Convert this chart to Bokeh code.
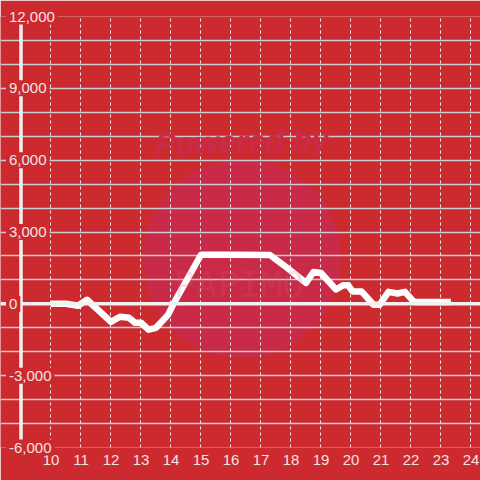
from bokeh.plotting import figure
from bokeh.models import Span, FixedTicker, ColumnDataSource, Label
from bokeh.core.properties import value
from bokeh.embed import file_html
from bokeh.resources import INLINE

# ---- data ----
hours = [10.0, 10.5, 10.9, 11.2, 12.0, 12.3, 12.6, 12.8, 13.0, 13.25, 13.5, 13.9, 14.1,
         15.0, 16.0, 17.3, 17.75, 18.5, 18.75, 19.0, 19.5, 19.75, 19.9, 20.05, 20.35,
         20.75, 20.95, 21.25, 21.55, 21.8, 22.1, 23.33]
values = [0, 0, -80, 170, -750, -540, -580, -790, -790, -1080, -1000, -460, 40,
          2050, 2050, 2040, 1620, 875, 1330, 1290, 600, 780, 780, 520, 520,
          -40, -40, 500, 430, 500, 80, 80]
x_ticks = list(range(10, 25))
y_ticks = list(range(-6000, 12001, 3000))
y_grid = list(range(-6000, 12001, 1000))
y_labels = ["-6,000", "-3,000", "0", "3,000", "6,000", "9,000", "12,000"]
axis_x = 9
watermark_x = 16.37
watermark_y = 1875

BG = "#cc2a2f"
TXT = "#f4e2e2"

p = figure(width=480, height=480, output_backend="svg", toolbar_location=None,
           x_range=(8.317, 24.317), y_range=(-6000, 12000),
           min_border_left=0, min_border_right=0, min_border_top=16, min_border_bottom=33,
           background_fill_color=BG, border_fill_color=BG, outline_line_color=None)

# watermark
p.scatter([watermark_x], [watermark_y], size=198, fill_color="#c92a48",
          line_color=None, level="image")
p.add_layout(Label(x=watermark_x, y=watermark_y + 4900, text="Powered by",
                   text_align="center", text_baseline="middle",
                   text_font="Liberation Sans", text_font_style="bold italic",
                   text_font_size="31px", text_color="#c92b4a", angle=0.03))
p.add_layout(Label(x=watermark_x - 0.1, y=watermark_y - 1050, text="PAPIMO",
                   text_align="center", text_baseline="middle",
                   text_font="DejaVu Sans Mono",
                   text_font_size="36px", text_color="#d85a6a", text_alpha=0.2))

# grids
p.ygrid.ticker = FixedTicker(ticks=y_grid)
p.ygrid.grid_line_color = "#c9cdd2"
p.ygrid.grid_line_width = 1.5
p.xgrid.ticker = FixedTicker(ticks=x_ticks)
p.xgrid.grid_line_color = "#f2eeee"
p.xgrid.grid_line_dash = "3 3"
p.xgrid.grid_line_width = 1

# axes
p.yaxis.visible = False
p.xaxis.ticker = FixedTicker(ticks=x_ticks)
p.xaxis.axis_line_color = None
p.xaxis.major_tick_line_color = None
p.xaxis.minor_tick_line_color = None
p.xaxis.major_tick_out = 0
p.xaxis.major_label_standoff = 7
p.xaxis.major_label_text_font = "Liberation Sans"
p.xaxis.major_label_text_font_size = "15px"
p.xaxis.major_label_text_color = TXT

# zero line and y axis line
p.add_layout(Span(location=0, dimension="width", line_color="#f3f0f0", line_width=3.5))
p.add_layout(Span(location=axis_x, dimension="height", line_color="#f3f0f0", line_width=3.5))

# data line
src = ColumnDataSource(dict(x=hours, y=values))
p.line("x", "y", source=src, line_color="white", line_width=6.5, line_join="round")

# y tick labels, drawn over the axis line with background
lsrc = ColumnDataSource(dict(x=[axis_x] * len(y_ticks), y=y_ticks, t=y_labels))
p.text("x", "y", text="t", source=lsrc, x_offset=-15, text_align="left",
       text_baseline="middle", text_font=value("Liberation Sans"),
       text_font_size="15px", text_color=TXT,
       background_fill_color=BG, padding=3, level="overlay")

open("out.html", "w").write(file_html(p, INLINE))
